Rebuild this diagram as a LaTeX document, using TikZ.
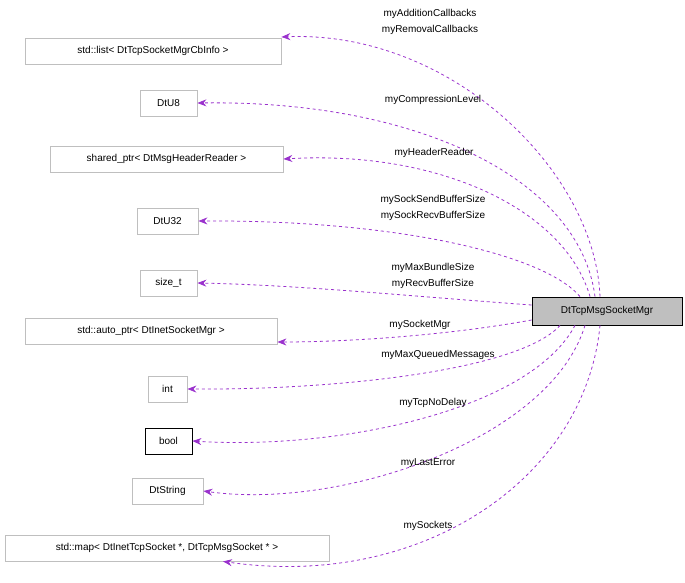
\documentclass[tikz,border=0pt]{standalone}
\usepackage{fontspec}
\setmainfont{Liberation Sans}
\usetikzlibrary{arrows.meta}
\definecolor{edge}{HTML}{9A32CD}
\definecolor{gbord}{HTML}{BFBFBF}
\begin{document}
\begin{tikzpicture}[x=1pt,y=-1pt,
  box/.style={draw=gbord,line width=0.8pt,minimum height=26pt,inner xsep=6pt,font=\fontsize{10}{12}\selectfont},
  rel/.style={draw=edge,dashed,line width=0.8pt,-{Stealth[length=9pt,width=7pt]},fill=none},
  lab/.style={font=\fontsize{10}{16}\selectfont,align=center,inner sep=0pt}]
\useasboundingbox (0,0) rectangle (685,583);
\node[box,minimum width=256pt] (list) at (153,51) {std::list< DtTcpSocketMgrCbInfo >};
\node[box,minimum width=57pt] (u8) at (168.5,103) {DtU8};
\node[box,minimum width=233pt] (shr) at (166.5,159) {shared\_ptr< DtMsgHeaderReader >};
\node[box,minimum width=61pt] (u32) at (167.5,221) {DtU32};
\node[box,minimum width=57pt] (sz) at (168.5,283) {size\_t};
\node[box,minimum width=252pt] (ap) at (151,331) {std::auto\_ptr< DtInetSocketMgr >};
\node[box,minimum width=39pt] (int) at (167.5,389) {int};
\node[box,draw=black,minimum width=47pt] (bool) at (168.5,441) {bool};
\node[box,minimum width=71pt] (str) at (167.5,491) {DtString};
\node[box,minimum width=324pt] (map) at (167,548) {std::map< DtInetTcpSocket *, DtTcpMsgSocket * >};
\node[box,draw=black,fill=gbord,minimum width=150pt,minimum height=28pt] (main) at (607,311) {DtTcpMsgSocketMgr};

\draw[rel] ([xshift=-7]main.north) .. controls (595,170) and (450,30) .. (list.east|-0,37);
\draw[rel] ([xshift=-12]main.north) .. controls (580,180) and (420,100) .. (u8.east);
\draw[rel] ([xshift=-17]main.north) .. controls (565,210) and (440,150) .. (shr.east);
\draw[rel] ([xshift=-27]main.north) .. controls (545,255) and (400,220) .. (u32.east);
\draw[rel] ([yshift=6]main.west) .. controls (420,297) and (300,285) .. (sz.east);
\draw[rel] ([yshift=-9]main.west) .. controls (450,335) and (350,342) .. (ap.east|-0,342);
\draw[rel] ([xshift=-47]main.south) .. controls (520,370) and (340,390) .. (int.east);
\draw[rel] ([xshift=-32]main.south) .. controls (530,410) and (340,450) .. (bool.east);
\draw[rel] ([xshift=-22]main.south) .. controls (550,440) and (340,510) .. (str.east);
\draw[rel] ([xshift=-7]main.south) .. controls (585,480) and (420,590) .. ([xshift=56]map.south);

\node[lab] (l1) at (430,22) {myAdditionCallbacks\\myRemovalCallbacks};
\node[lab] (l2) at (433,100) {myCompressionLevel};
\node[lab] (l3) at (434,153) {myHeaderReader};
\node[lab] (l4) at (433,208) {mySockSendBufferSize\\mySockRecvBufferSize};
\node[lab] (l5) at (433,276) {myMaxBundleSize\\myRecvBufferSize};
\node[lab] (l6) at (420,325) {mySocketMgr};
\node[lab] (l7) at (438,355) {myMaxQueuedMessages};
\node[lab] (l8) at (433,403) {myTcpNoDelay};
\node[lab] (l9) at (428,463) {myLastError};
\node[lab] (l10) at (428,526) {mySockets};
\end{tikzpicture}
\end{document}
